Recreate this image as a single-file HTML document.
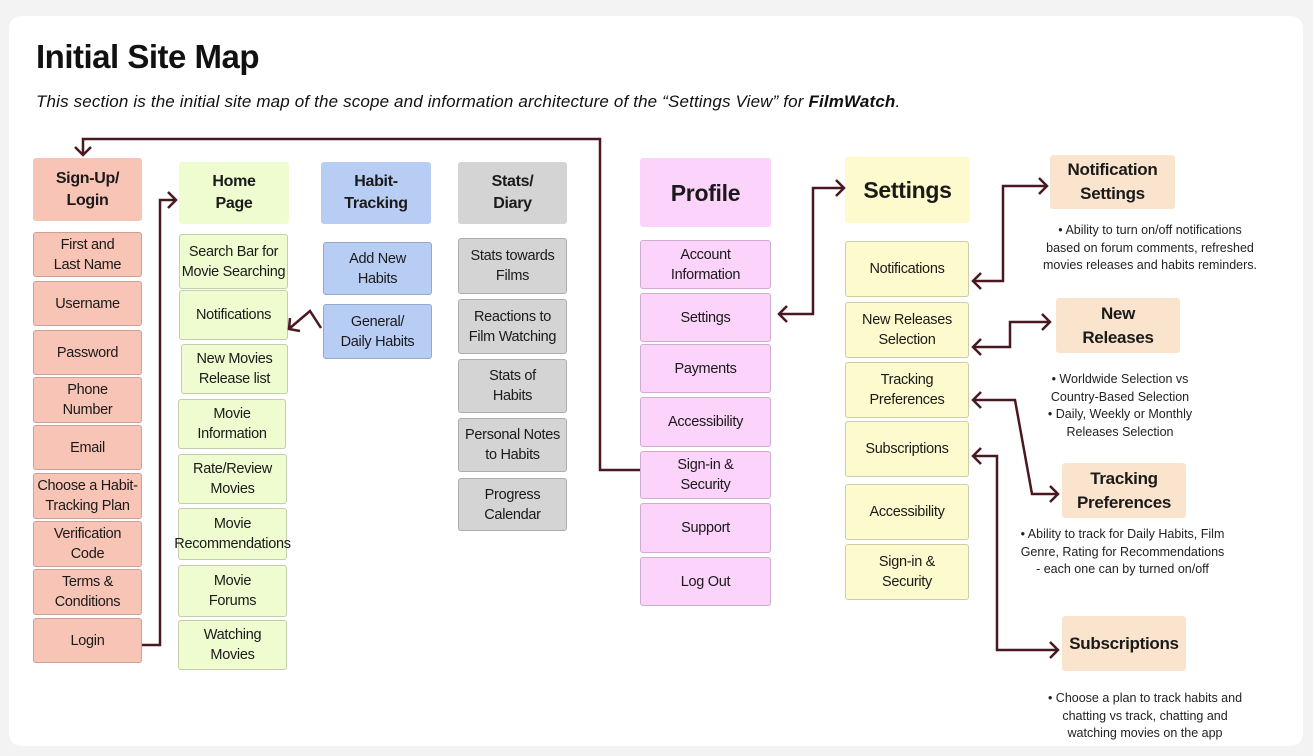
<!DOCTYPE html>
<html><head><meta charset="utf-8"><style>
body{margin:0;width:1313px;height:756px;background:#f3f3f3;position:relative;overflow:hidden;font-family:"Liberation Sans",sans-serif;}
.card{position:absolute;left:9px;top:16px;width:1294px;height:730px;background:#fff;border-radius:12px;}
h1{position:absolute;left:36px;top:38px;margin:0;font-size:33px;font-weight:bold;letter-spacing:-0.5px;color:#111;}
.sub{position:absolute;left:36px;top:92px;font-size:17px;font-style:italic;color:#111;letter-spacing:0.15px;}
.b{position:absolute;display:flex;align-items:center;justify-content:center;text-align:center;font-size:14.5px;line-height:20px;letter-spacing:-0.3px;color:#1a1a1a;border:1px solid rgba(0,0,0,0.18);border-radius:3px;box-sizing:border-box;white-space:nowrap;}
.h{font-weight:bold;font-size:16px;line-height:22px;border:none;}
.r{background:#f8c4b6}.g{background:#effcd0}.u{background:#b8cdf4}.y{background:#d4d4d4}.p{background:#fbd3fb}.w{background:#fdfbcd}.o{background:#fbe4cd;border:none;font-weight:bold;font-size:17px;line-height:24px}
.t{position:absolute;font-size:12.5px;line-height:17.5px;text-align:center;color:#222;}
svg{position:absolute;left:0;top:0}
</style></head><body>
<div class="card"></div>
<h1>Initial Site Map</h1>
<div class="sub">This section is the initial site map of the scope and information architecture of the “Settings View” for <b>FilmWatch</b>.</div>

<div class="b r h" style="left:33px;top:158px;width:109px;height:63px">Sign-Up/<br>Login</div>
<div class="b r" style="left:33px;top:232px;width:109px;height:45px">First and<br>Last Name</div>
<div class="b r" style="left:33px;top:281px;width:109px;height:45px">Username</div>
<div class="b r" style="left:33px;top:330px;width:109px;height:45px">Password</div>
<div class="b r" style="left:33px;top:377px;width:109px;height:46px">Phone<br>Number</div>
<div class="b r" style="left:33px;top:425px;width:109px;height:45px">Email</div>
<div class="b r" style="left:33px;top:473px;width:109px;height:46px">Choose a Habit-<br>Tracking Plan</div>
<div class="b r" style="left:33px;top:521px;width:109px;height:46px">Verification<br>Code</div>
<div class="b r" style="left:33px;top:569px;width:109px;height:46px">Terms &amp;<br>Conditions</div>
<div class="b r" style="left:33px;top:618px;width:109px;height:45px">Login</div>

<div class="b g h" style="left:179px;top:162px;width:110px;height:62px">Home<br>Page</div>
<div class="b g" style="left:179px;top:234px;width:109px;height:55px">Search Bar for<br>Movie Searching</div>
<div class="b g" style="left:179px;top:290px;width:109px;height:50px">Notifications</div>
<div class="b g" style="left:181px;top:344px;width:107px;height:50px">New Movies<br>Release list</div>
<div class="b g" style="left:178px;top:399px;width:108px;height:50px">Movie<br>Information</div>
<div class="b g" style="left:178px;top:454px;width:109px;height:50px">Rate/Review<br>Movies</div>
<div class="b g" style="left:178px;top:508px;width:109px;height:52px">Movie<br>Recommendations</div>
<div class="b g" style="left:178px;top:565px;width:109px;height:52px">Movie<br>Forums</div>
<div class="b g" style="left:178px;top:620px;width:109px;height:50px">Watching<br>Movies</div>

<div class="b u h" style="left:321px;top:162px;width:110px;height:62px">Habit-<br>Tracking</div>
<div class="b u" style="left:323px;top:242px;width:109px;height:53px">Add New<br>Habits</div>
<div class="b u" style="left:323px;top:304px;width:109px;height:55px">General/<br>Daily Habits</div>

<div class="b y h" style="left:458px;top:162px;width:109px;height:62px">Stats/<br>Diary</div>
<div class="b y" style="left:458px;top:238px;width:109px;height:56px">Stats towards<br>Films</div>
<div class="b y" style="left:458px;top:299px;width:109px;height:55px">Reactions to<br>Film Watching</div>
<div class="b y" style="left:458px;top:359px;width:109px;height:54px">Stats of<br>Habits</div>
<div class="b y" style="left:458px;top:418px;width:109px;height:54px">Personal Notes<br>to Habits</div>
<div class="b y" style="left:458px;top:478px;width:109px;height:53px">Progress<br>Calendar</div>

<div class="b p h" style="left:640px;top:158px;width:131px;height:69px;font-size:23px">Profile</div>
<div class="b p" style="left:640px;top:240px;width:131px;height:49px">Account<br>Information</div>
<div class="b p" style="left:640px;top:293px;width:131px;height:49px">Settings</div>
<div class="b p" style="left:640px;top:344px;width:131px;height:49px">Payments</div>
<div class="b p" style="left:640px;top:397px;width:131px;height:50px">Accessibility</div>
<div class="b p" style="left:640px;top:451px;width:131px;height:48px">Sign-in &amp;<br>Security</div>
<div class="b p" style="left:640px;top:503px;width:131px;height:50px">Support</div>
<div class="b p" style="left:640px;top:557px;width:131px;height:49px">Log Out</div>

<div class="b w h" style="left:845px;top:157px;width:125px;height:66px;font-size:23px">Settings</div>
<div class="b w" style="left:845px;top:241px;width:124px;height:56px">Notifications</div>
<div class="b w" style="left:845px;top:302px;width:124px;height:56px">New Releases<br>Selection</div>
<div class="b w" style="left:845px;top:362px;width:124px;height:56px">Tracking<br>Preferences</div>
<div class="b w" style="left:845px;top:421px;width:124px;height:56px">Subscriptions</div>
<div class="b w" style="left:845px;top:484px;width:124px;height:56px">Accessibility</div>
<div class="b w" style="left:845px;top:544px;width:124px;height:56px">Sign-in &amp;<br>Security</div>

<div class="b o" style="left:1050px;top:155px;width:125px;height:54px">Notification<br>Settings</div>
<div class="b o" style="left:1056px;top:298px;width:124px;height:55px">New<br>Releases</div>
<div class="b o" style="left:1062px;top:463px;width:124px;height:55px">Tracking<br>Preferences</div>
<div class="b o" style="left:1062px;top:616px;width:124px;height:55px">Subscriptions</div>

<div class="t" style="left:1030px;top:222px;width:240px">• Ability to turn on/off notifications<br>based on forum comments, refreshed<br>movies releases and habits reminders.</div>
<div class="t" style="left:1030px;top:371px;width:180px">• Worldwide Selection vs<br>Country-Based Selection<br>• Daily, Weekly or Monthly<br>Releases Selection</div>
<div class="t" style="left:1000px;top:526px;width:245px">• Ability to track for Daily Habits, Film<br>Genre, Rating for Recommendations<br>- each one can by turned on/off</div>
<div class="t" style="left:1030px;top:690px;width:230px">• Choose a plan to track habits and<br>chatting vs track, chatting and<br>watching movies on the app</div>

<svg width="1313" height="756" fill="none" stroke="#4a1820" stroke-width="2.5" stroke-linejoin="miter">
<polyline points="640,470 600,470 600,139 83,139 83,155"/>
<polyline points="75,147 83,155 91,147"/>
<polyline points="142,645 160,645 160,200 176,200"/>
<polyline points="168,192 176,200 168,208"/>
<polyline points="321,328 310,311 290,328"/>
<polyline points="290,318 289,329 300,331"/>
<polyline points="779,314 813,314 813,188 844,188"/>
<polyline points="787,306 779,314 787,322"/><polyline points="836,180 844,188 836,196"/>
<polyline points="973,281 1003,281 1003,186 1047,186"/>
<polyline points="981,273 973,281 981,289"/><polyline points="1039,178 1047,186 1039,194"/>
<polyline points="973,347 1010,347 1010,322 1050,322"/>
<polyline points="981,339 973,347 981,355"/><polyline points="1042,314 1050,322 1042,330"/>
<polyline points="973,400 1015,400 1032,494 1058,494"/>
<polyline points="981,392 973,400 981,408"/><polyline points="1050,486 1058,494 1050,502"/>
<polyline points="973,456 997,456 997,650 1058,650"/>
<polyline points="981,448 973,456 981,464"/><polyline points="1050,642 1058,650 1050,658"/>
</svg>
</body></html>
